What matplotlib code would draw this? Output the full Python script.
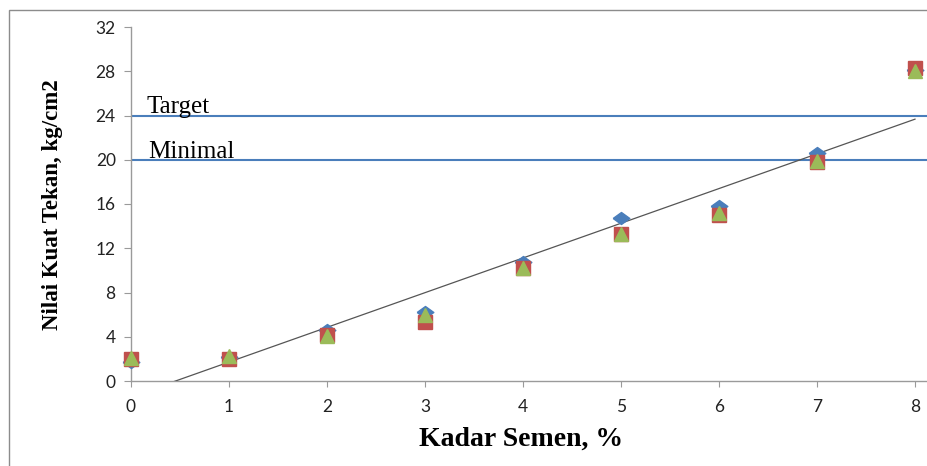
import numpy as np
import matplotlib.pyplot as plt
from matplotlib.patches import Rectangle

# Kadar semen (%) vs nilai kuat tekan (kg/cm2)
kadar_semen = [0, 1, 2, 3, 4, 5, 6, 7, 8]
seri_1 = [1.7, 2.2, 4.6, 6.2, 10.8, 14.7, 15.8, 20.6, 28.1]   # diamond
seri_2 = [2.0, 2.0, 4.2, 5.3, 10.2, 13.3, 15.0, 19.8, 28.3]   # square
seri_3 = [2.1, 2.3, 4.1, 6.0, 10.2, 13.3, 15.2, 19.9, 28.0]   # triangle
garis_batas = {"Target": 24, "Minimal": 20}
y_ticks = [0, 4, 8, 12, 16, 20, 24, 28, 32]

BLUE = "#4a7ebb"
RED = "#c0504d"
GREEN = "#9bbb59"
AXIS_GRAY = "#9a9a9a"

fig = plt.figure(figsize=(9.28, 4.66), dpi=100)
ax = fig.add_axes([131 / 928, 1 - 381 / 466, 1 - 131 / 928, (381 - 27) / 466])

# border of the original chart area
fig.patches.append(Rectangle((9 / 928, -0.2), 1.2, 1.2 - 10 / 466,
                             transform=fig.transFigure, fill=False,
                             edgecolor="#8c8c8c", linewidth=1.0))

# reference lines + their labels
offsets = {"Target": 0.16, "Minimal": 0.18}
for label, val in garis_batas.items():
    ax.axhline(val, color=BLUE, linewidth=1.5, zorder=2)
    ax.text(offsets[label], val + 0.2, label, family="Liberation Serif",
            fontsize=18, va="baseline", ha="left")

# linear trend (fits the square series)
slope, intercept = np.polyfit(kadar_semen, seri_2, 1)
x_fit = np.array([0, max(kadar_semen)], dtype=float)
ax.plot(x_fit, slope * x_fit + intercept, color="#555555", linewidth=0.9, zorder=3)

diamond = [(-1, 0), (0, 0.72), (1, 0), (0, -0.72), (-1, 0)]
ax.plot(kadar_semen, seri_1, linestyle="none", marker=diamond, markersize=12,
        color=BLUE, markeredgecolor=BLUE, zorder=4, clip_on=False)
ax.plot(kadar_semen, seri_2, linestyle="none", marker="s", markersize=9.5,
        color=RED, markeredgecolor=RED, zorder=5, clip_on=False)
ax.plot(kadar_semen, seri_3, linestyle="none", marker="^", markersize=10,
        color=GREEN, markeredgecolor=GREEN, zorder=6, clip_on=False)

ax.set_xlim(0, 8 + 13 / 98)
ax.set_ylim(0, 32)
ax.set_xticks(kadar_semen)
ax.set_yticks(y_ticks)

for side in ["top", "right"]:
    ax.spines[side].set_visible(False)
for side in ["left", "bottom"]:
    ax.spines[side].set_color(AXIS_GRAY)
    ax.spines[side].set_linewidth(1.0)

ax.tick_params(axis="both", colors=AXIS_GRAY, labelcolor="#222222",
               labelsize=12.5, direction="out")
ax.tick_params(axis="y", length=5, pad=6)
ax.tick_params(axis="x", length=4, pad=9)
for lbl in ax.get_xticklabels() + ax.get_yticklabels():
    lbl.set_family("Lato")

ax.set_xlabel("Kadar Semen, %", family="Liberation Serif", fontweight="bold",
              fontsize=20)
ax.set_ylabel("Nilai Kuat Tekan, kg/cm2", family="Liberation Serif",
              fontweight="bold", fontsize=16.5)
ax.yaxis.set_label_coords(-(131 - 63) / 797, (381 - 205) / 354)
ax.xaxis.set_label_coords((521 - 131) / 797, -(427 - 381) / 354)

fig.savefig("out.png", dpi=100)
